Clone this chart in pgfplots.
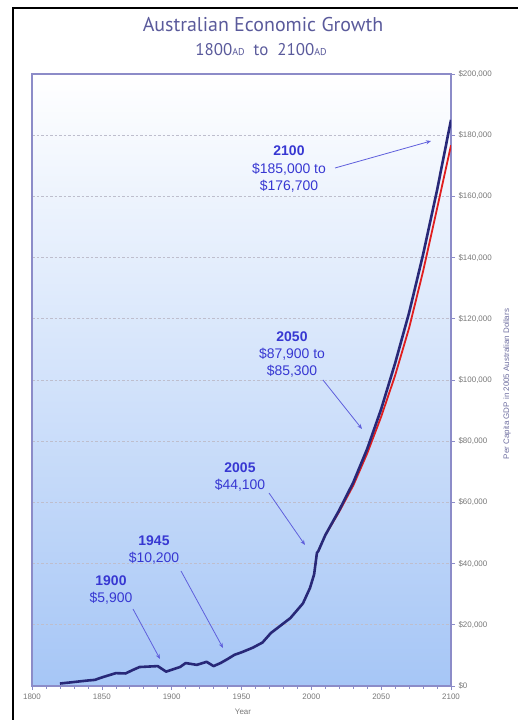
\documentclass[border=0pt]{standalone}
\usepackage{fontspec}
\setmainfont{Liberation Sans}
\newfontfamily\titlefont{PT Sans}
\usepackage{pgfplots}
\pgfplotsset{compat=1.18}
\usetikzlibrary{arrows.meta}
\definecolor{titlecol}{RGB}{90,90,155}
\definecolor{framecol}{RGB}{140,140,200}
\definecolor{bgblue}{RGB}{166,198,246}
\definecolor{navy}{RGB}{40,40,120}
\definecolor{redl}{RGB}{225,30,30}
\definecolor{annot}{RGB}{55,55,210}
\definecolor{arrowc}{RGB}{95,95,220}
\definecolor{ticklab}{RGB}{120,120,120}
\definecolor{ylabc}{RGB}{110,110,160}
\definecolor{gridc}{RGB}{190,190,205}
\begin{document}
\begin{tikzpicture}[x=1bp,y=1bp]
\useasboundingbox (0,0) rectangle (518,720);
\draw[black, line width=1.5bp] (13,0) -- (13,712) -- (518,712);
\node[anchor=base, text=titlecol, font=\titlefont\fontsize{20}{22}\selectfont, inner sep=0] at (263,688) {Australian Economic Growth};
\node[anchor=base, text=titlecol, font=\titlefont\fontsize{17}{19}\selectfont, inner sep=0] at (261,664) {1800{\fontsize{10}{11}\selectfont AD}\ \ to\ \ 2100{\fontsize{10}{11}\selectfont AD}};
\begin{axis}[at={(32bp,34bp)}, anchor=south west, width=419bp, height=612bp, scale only axis,
  xmin=1800, xmax=2100, ymin=0, ymax=200000,
  xtick={1800,1850,...,2100}, minor x tick num=4,
  ytick={0,20000,...,200000},
  xtick pos=bottom, ytick pos=right, yticklabel pos=right,
  tick align=outside,
  major tick length=4bp, minor tick length=3bp,
  axis line style={framecol, line width=1.3bp},
  tick style={framecol, line width=0.6bp},
  ymajorgrids, major grid style={gridc, dash pattern=on 2.5bp off 2bp, line width=0.6bp},
  axis background/.style={shade, top color=white, bottom color=bgblue},
  scaled y ticks=false,
  /pgf/number format/assume math mode=true,
  yticklabel={\$\pgfmathprintnumber[fixed,precision=0,1000 sep={,}]{\tick}},
  xticklabel style={/pgf/number format/1000 sep={}},
  ticklabel style={font=\fontsize{8}{9}\selectfont, text=ticklab},
]
\addplot[redl, line width=1.8bp] coordinates {
(2010,49300) (2020,57000) (2030,65500) (2040,76000) (2050,88000)
(2060,101500) (2070,117000) (2080,135500) (2090,156000) (2100,176700)
};
\addplot[navy, line width=2.6bp, line join=round] coordinates {
(1820,800) (1830,1300) (1840,1800) (1845,2000) (1850,2800) (1860,4200)
(1867,4100) (1872,5200) (1877,6200) (1890,6500) (1896,4700) (1900,5300)
(1906,6200) (1910,7500) (1918,6900) (1925,7900) (1930,6500) (1935,7500)
(1940,8800) (1945,10200) (1950,11000) (1958,12500) (1965,14200) (1971,17300)
(1985,22200) (1994,27000) (1999,32000) (2002,36500) (2004,43500) (2005,44100)
(2010,49300) (2020,57500) (2030,66500) (2040,77500) (2050,90500)
(2060,105500) (2070,122000) (2080,141000) (2090,162000) (2100,185000)
};
\end{axis}
\node[rotate=90, text=ylabc, font=\fontsize{8}{9}\selectfont] at (507,336) {Per Capita GDP in 2005 Australian Dollars};
\node[anchor=base, text=ticklab, font=\fontsize{8}{9}\selectfont] at (243,5) {Year};
% annotations
\begin{scope}[every node/.style={anchor=base, text=annot, inner sep=0, font=\fontsize{14}{16}\selectfont}]
\node[font=\bfseries\fontsize{14}{16}\selectfont] at (289,564) {2100};
\node at (289,546) {\$185,000 to};
\node at (289,529) {\$176,700};
\node[font=\bfseries\fontsize{14}{16}\selectfont] at (292,378) {2050};
\node at (292,361) {\$87,900 to};
\node at (292,344) {\$85,300};
\node[font=\bfseries\fontsize{14}{16}\selectfont] at (240,247) {2005};
\node at (240,230) {\$44,100};
\node[font=\bfseries\fontsize{14}{16}\selectfont] at (154,174) {1945};
\node at (154,157) {\$10,200};
\node[font=\bfseries\fontsize{14}{16}\selectfont] at (111,134) {1900};
\node at (111,117) {\$5,900};
\end{scope}
\begin{scope}[arrowc, line width=0.8bp, -{Stealth[length=5bp,width=4bp]}]
\draw (335,552) -- (431,579);
\draw (323,340) -- (362,291);
\draw (269,227) -- (305,175);
\draw (181,149) -- (223,72);
\draw (133,111) -- (160,61);
\end{scope}
\end{tikzpicture}
\end{document}
